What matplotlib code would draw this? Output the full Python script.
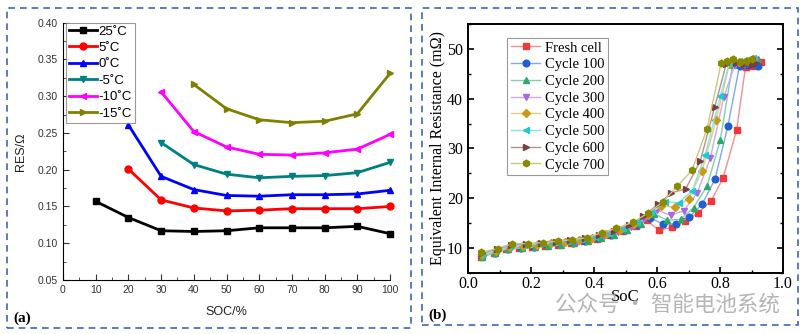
import matplotlib.pyplot as plt
from matplotlib.patches import Rectangle
from matplotlib.ticker import MultipleLocator

# ---- panel (a): resistance vs SOC at several temperatures ----
soc_a = [10, 20, 30, 40, 50, 60, 70, 80, 90, 100]
res_25 = [0.157, 0.135, 0.117, 0.116, 0.117, 0.121, 0.121, 0.121, 0.123, 0.113]
res_5 = [0.201, 0.159, 0.148, 0.144, 0.145, 0.147, 0.147, 0.147, 0.150]
res_0 = [0.261, 0.191, 0.173, 0.165, 0.164, 0.166, 0.166, 0.167, 0.172]
res_m5 = [0.237, 0.207, 0.194, 0.189, 0.191, 0.192, 0.196, 0.210]
res_m10 = [0.306, 0.252, 0.231, 0.221, 0.220, 0.223, 0.228, 0.248]
res_m15 = [0.316, 0.283, 0.268, 0.264, 0.266, 0.276, 0.331]
temp_labels = ["25˚C", "5˚C", "0˚C", "-5˚C", "-10˚C", "-15˚C"]

# ---- panel (b): equivalent internal resistance vs SoC over cycling ----
soc_fresh = [0.040, 0.081, 0.122, 0.163, 0.204, 0.245, 0.286, 0.327, 0.368, 0.409, 0.450, 0.491,
             0.532, 0.567, 0.606, 0.649, 0.690, 0.731, 0.772, 0.810, 0.853, 0.881, 0.905, 0.929]
eir_fresh = [8.3, 9.0, 9.8, 10.0, 10.3, 10.5, 10.7, 11.0, 11.4, 11.9, 12.6, 13.4,
             14.4, 15.6, 13.6, 14.2, 15.4, 17.1, 19.5, 24.1, 33.8, 46.4, 46.6, 47.4]
soc_c100 = [0.045, 0.086, 0.127, 0.168, 0.209, 0.250, 0.291, 0.332, 0.373, 0.414, 0.455, 0.496,
            0.537, 0.578, 0.619, 0.660, 0.702, 0.743, 0.784, 0.825, 0.862, 0.885, 0.905, 0.920]
eir_c100 = [8.4, 9.1, 9.9, 10.1, 10.3, 10.6, 10.8, 11.1, 11.5, 12.0, 12.7, 13.6,
            14.7, 16.1, 14.8, 14.8, 16.2, 18.8, 23.8, 34.5, 46.6, 46.8, 47.0, 46.6]
soc_c200 = [0.044, 0.086, 0.128, 0.170, 0.212, 0.254, 0.296, 0.338, 0.380, 0.422, 0.464, 0.506,
            0.548, 0.590, 0.633, 0.675, 0.716, 0.759, 0.801, 0.840, 0.870, 0.900, 0.920]
eir_c200 = [8.3, 9.0, 9.9, 10.0, 10.2, 10.5, 10.6, 11.0, 11.4, 12.0, 12.6, 13.6,
            14.9, 16.9, 15.6, 15.8, 18.1, 22.5, 31.7, 46.8, 47.2, 47.6, 48.0]
soc_c300 = [0.045, 0.088, 0.131, 0.174, 0.217, 0.260, 0.303, 0.346, 0.389, 0.432, 0.475, 0.518,
            0.559, 0.600, 0.643, 0.685, 0.727, 0.769, 0.812, 0.847, 0.875, 0.900, 0.915]
eir_c300 = [8.6, 9.3, 10.1, 10.3, 10.5, 10.8, 11.0, 11.3, 11.8, 12.4, 13.2, 14.3,
            15.8, 17.6, 16.6, 17.5, 21.0, 28.0, 40.3, 46.8, 47.0, 47.5, 47.8]
soc_c400 = [0.045, 0.089, 0.133, 0.176, 0.220, 0.264, 0.308, 0.351, 0.395, 0.439, 0.483, 0.526,
            0.570, 0.614, 0.657, 0.700, 0.743, 0.788, 0.830, 0.860, 0.885, 0.905]
eir_c400 = [8.7, 9.5, 10.3, 10.5, 10.7, 11.0, 11.2, 11.6, 12.1, 12.8, 13.7, 14.9,
            16.7, 18.5, 18.2, 19.9, 25.5, 35.7, 47.0, 47.3, 47.5, 47.9]
soc_c500 = [0.045, 0.090, 0.134, 0.179, 0.224, 0.268, 0.313, 0.358, 0.402, 0.447, 0.492, 0.537,
            0.581, 0.626, 0.669, 0.712, 0.753, 0.801, 0.830, 0.860, 0.885, 0.905]
eir_c500 = [8.8, 9.6, 10.4, 10.6, 10.8, 11.1, 11.4, 11.8, 12.3, 13.0, 14.0, 15.3,
            17.2, 19.3, 19.1, 21.5, 28.7, 40.5, 47.2, 47.5, 47.8, 48.2]
soc_c600 = [0.045, 0.092, 0.138, 0.185, 0.231, 0.278, 0.324, 0.371, 0.417, 0.464, 0.510, 0.557,
            0.603, 0.646, 0.691, 0.737, 0.783, 0.820, 0.850, 0.875, 0.900, 0.915]
eir_c600 = [9.0, 9.8, 10.7, 10.8, 11.0, 11.3, 11.6, 12.0, 12.6, 13.4, 14.6, 16.4,
            18.8, 21.1, 21.9, 27.4, 38.3, 47.0, 47.2, 47.0, 46.8, 47.2]
soc_c700 = [0.042, 0.096, 0.141, 0.190, 0.238, 0.285, 0.331, 0.379, 0.424, 0.471, 0.524,
            0.571, 0.619, 0.665, 0.711, 0.759, 0.804, 0.822, 0.842, 0.862, 0.882, 0.902]
eir_c700 = [9.2, 9.9, 10.9, 10.9, 11.1, 11.4, 11.7, 12.1, 13.1, 14.0, 15.2,
            17.0, 19.3, 22.5, 25.6, 34.0, 47.2, 47.5, 47.9, 47.3, 47.6, 48.0]
cycle_labels = ["Fresh cell", "Cycle 100", "Cycle 200", "Cycle 300",
                "Cycle 400", "Cycle 500", "Cycle 600", "Cycle 700"]

fig = plt.figure(figsize=(8.06, 3.34), dpi=100)

# dashed panel frames
box_col = "#3F66B8"
fig.patches.append(Rectangle((7 / 806, 1 - 328 / 334), 404 / 806, 320 / 334, transform=fig.transFigure,
                             fill=False, ls=(0, (4, 3)), lw=1.2, ec=box_col))
fig.patches.append(Rectangle((422 / 806, 1 - 325 / 334), 376 / 806, 317 / 334, transform=fig.transFigure,
                             fill=False, ls=(0, (4, 3)), lw=1.2, ec=box_col))

# ---------------- (a) ----------------
sans = "Liberation Sans"
ax1 = fig.add_axes([63 / 806, 1 - 280 / 334, 327 / 806, 257.3 / 334])
series_a = [(soc_a, res_25), (soc_a[1:], res_5), (soc_a[1:], res_0),
            (soc_a[2:], res_m5), (soc_a[2:], res_m10), (soc_a[3:], res_m15)]
cols_a = ["black", "#FF0000", "#0000FF", "#008080", "#FF00FF", "#808000"]
marks_a = ["s", "o", "^", "v", "<", ">"]
for (x, y), c, m, lab in zip(series_a, cols_a, marks_a, temp_labels):
    ax1.plot(x, y, color=c, marker=m, ms=5, lw=2, label=lab, clip_on=False)
ax1.set_xlim(0, 100)
ax1.set_ylim(0.05, 0.40)
ax1.xaxis.set_major_locator(MultipleLocator(10))
ax1.xaxis.set_minor_locator(MultipleLocator(5))
ax1.yaxis.set_major_locator(MultipleLocator(0.05))
ax1.yaxis.set_minor_locator(MultipleLocator(0.025))
ax1.yaxis.set_major_formatter(plt.FormatStrFormatter("%.2f"))
ax1.tick_params(which="both", direction="in", labelsize=7.5, colors="#333333")
ax1.tick_params(which="major", length=4)
ax1.tick_params(which="minor", length=2)
for lbl in ax1.get_xticklabels() + ax1.get_yticklabels():
    lbl.set_fontfamily(sans)
ax1.spines["top"].set_visible(False)
ax1.spines["right"].set_visible(False)
ax1.set_xlabel("SOC/%", fontsize=9, family=sans, labelpad=8, color="#222222")
ax1.set_ylabel("RES/Ω", fontsize=9, family=sans, labelpad=8, color="#222222")
leg1 = ax1.legend(loc="upper left", bbox_to_anchor=(0.01, 1.0), fancybox=False, edgecolor="#808080",
                  prop={"family": sans, "size": 9.5}, handlelength=2.1, handletextpad=0.15,
                  borderpad=0.2, labelspacing=0.32, borderaxespad=0)
leg1.get_frame().set_linewidth(0.8)
fig.text(13 / 806, 1 - 318 / 334, "(a)", fontsize=11, fontweight="bold", family="Liberation Serif",
         va="center")

# ---------------- (b) ----------------
serif = "Liberation Serif"
ax2 = fig.add_axes([468 / 806, 1 - 273 / 334, 315 / 806, 249 / 334])
series_b = [(soc_fresh, eir_fresh), (soc_c100, eir_c100), (soc_c200, eir_c200), (soc_c300, eir_c300),
            (soc_c400, eir_c400), (soc_c500, eir_c500), (soc_c600, eir_c600), (soc_c700, eir_c700)]
mark_cols = ["#F03838", "#1F5FD6", "#2EA866", "#A866E0", "#CC9A10", "#1EC8D2", "#7A3E3E", "#8A8A00"]
line_cols = ["#F59090", "#80A8EE", "#80D0A8", "#CFA8F0", "#E6CC80", "#80E4E8", "#B89090", "#C8C880"]
marks_b = ["s", "o", "^", "v", "D", "<", ">", "h"]
for (x, y), mc, lc, m, lab in zip(series_b, mark_cols, line_cols, marks_b, cycle_labels):
    ax2.plot(x, y, color=lc, lw=1.0, marker=m, ms=4.8 if m != "D" else 4.0,
             mfc=mc, mec=mc, label=lab)
ax2.set_xlim(0.0, 1.0)
ax2.set_ylim(5, 55)
ax2.xaxis.set_major_locator(MultipleLocator(0.2))
ax2.xaxis.set_minor_locator(MultipleLocator(0.1))
ax2.yaxis.set_major_locator(MultipleLocator(10))
ax2.yaxis.set_minor_locator(MultipleLocator(5))
ax2.xaxis.set_major_formatter(plt.FormatStrFormatter("%.1f"))
ax2.tick_params(which="both", direction="in", labelsize=11.5, right=True, top=False)
ax2.tick_params(axis="x", pad=2)
ax2.tick_params(which="major", length=4, width=1.2)
ax2.tick_params(which="minor", length=2.5, width=1.0)
for lbl in ax2.get_xticklabels() + ax2.get_yticklabels():
    lbl.set_fontfamily(serif)
for sp in ax2.spines.values():
    sp.set_linewidth(1.4)
ax2.set_xlabel("SoC", fontsize=12, family=serif, labelpad=-2)
ax2.set_ylabel("Equivalent Internal Resistance (mΩ)", fontsize=11.5, family=serif, labelpad=1)
leg2 = ax2.legend(loc="upper left", bbox_to_anchor=(0.125, 0.945), fancybox=False, edgecolor="#808080",
                  prop={"family": serif, "size": 10.5}, handlelength=2.0, handletextpad=0.3,
                  borderpad=0.25, labelspacing=0.24, borderaxespad=0)
leg2.get_frame().set_linewidth(0.8)
fig.text(428 / 806, 1 - 315 / 334, "(b)", fontsize=11, fontweight="bold", family=serif, va="center")

# watermark
fig.text(555 / 806, 1 - 305 / 334, "公众号 · 智能电池系统", fontsize=15.5, color="#A8A8A8", alpha=0.85,
         family=["Noto Sans CJK SC", "DejaVu Sans"], va="center")

fig.savefig("out.png", dpi=100)
